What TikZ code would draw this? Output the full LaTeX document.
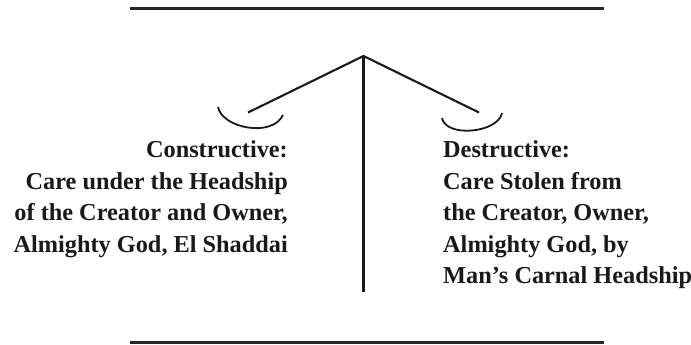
\documentclass[tikz,border=0pt]{standalone}
\usepackage{fontspec}
\setmainfont{Liberation Serif}
\begin{document}
\begin{tikzpicture}[x=1pt,y=-1pt,
  rule/.style={line width=2.6pt,color=black!85},
  beam/.style={line width=2.1pt,color=black!90},
  pan/.style={line width=1.8pt,color=black!90},
  label/.style={inner sep=0pt,font=\bfseries\fontsize{24.3}{31.6}\selectfont,text=black!90}]
\useasboundingbox (0,0) rectangle (691,345);
\coordinate (tl) at (130,8.5);
\coordinate (tr) at (604,8.5);
\coordinate (bl) at (130,342.5);
\coordinate (br) at (604,342.5);
\coordinate (apex) at (363.5,56);
\coordinate (foot) at (363.5,292);
\coordinate (le) at (248,112.5);
\coordinate (re) at (479,112.5);
\draw[rule] (tl) -- (tr);
\draw[rule] (bl) -- (br);
\draw[beam] (apex) -- (foot);
\draw[beam] (le) -- (apex) -- (re);
\draw[pan] (218,107) .. controls (222,128) and (272,138) .. (283,115);
\draw[pan] (442,118) .. controls (446,138) and (498,133) .. (502,113);
\node[label,align=right,anchor=north east] (left) at (288,140.5) {Constructive:\\Care under the Headship\\of the Creator and Owner,\\Almighty God, El Shaddai};
\node[label,align=left,anchor=north west] (right) at (443,140.5) {Destructive:\\Care Stolen from\\the Creator, Owner,\\Almighty God, by\\Man’s Carnal Headship};
\end{tikzpicture}
\end{document}
